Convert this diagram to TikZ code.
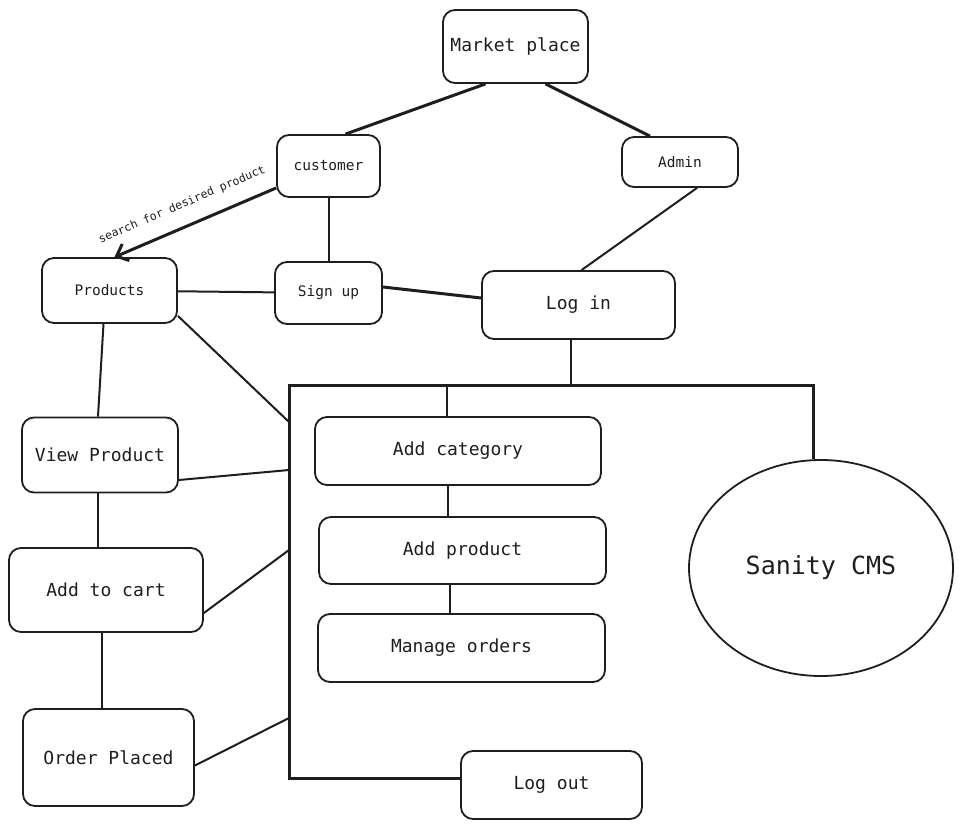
\documentclass[tikz,border=0pt]{standalone}
\usepackage{fontspec}
\setmainfont{DejaVu Sans Mono}
\usetikzlibrary{arrows.meta,shapes.geometric}
\definecolor{ink}{HTML}{1E1E1E}

\begin{document}
\begin{tikzpicture}
      [x=1pt,y=-1pt,color=ink,
       every node/.style={rectangle,rounded corners=12pt,draw,line width=1.8pt,
         inner sep=0pt,font=\fontsize{18}{22}\selectfont},
       small/.style={font=\fontsize{14.5}{18}\selectfont},
       note/.style={draw=none,font=\fontsize{11.5}{13}\selectfont},
       wire/.style={line width=2pt},
       heavy wire/.style={line width=3pt}]
      \useasboundingbox (0,0) rectangle (962,832);

      \node [minimum width=145pt,minimum height=73pt] (mp) at (515.5,46.5) {Market place};
      \node [small,minimum width=116pt,minimum height=50pt] (admin) at (680,162) {Admin};
      \node [small,minimum width=103pt,minimum height=62pt] (cust) at (328.5,166) {customer};
      \node [small,minimum width=135pt,minimum height=65pt] (prod) at (109.5,290.5) {Products};
      \node [small,minimum width=107pt,minimum height=62pt] (sign) at (328.5,293) {Sign up};
      \node [minimum width=193pt,minimum height=68pt] (login) at (578.5,305) {Log in};
      \node [minimum width=286pt,minimum height=68pt] (cat) at (458,451) {Add category};
      \node [minimum width=287pt,minimum height=67pt] (aprod) at (462.5,550.5) {Add product};
      \node [minimum width=287pt,minimum height=68pt] (orders) at (461.5,648) {Manage orders};
      \node [minimum width=181pt,minimum height=68pt] (logout) at (551.5,785) {Log out};
      \node [minimum width=156pt,minimum height=75pt] (view) at (100,455) {View Product};
      \node [minimum width=194pt,minimum height=84pt] (cart) at (106,590) {Add to cart};
      \node [minimum width=171pt,minimum height=97pt] (placed) at (108.5,757.5) {Order Placed};
      \node [ellipse,minimum width=264pt,minimum height=216pt,
        font=\fontsize{25}{30}\selectfont] (sanity) at (821,568) {Sanity CMS};

      \coordinate (tl) at (289,385);
      \coordinate (tr) at (813,385);
      \coordinate (bl) at (289,778);
      \coordinate (j1) at (289,422);
      \coordinate (j2) at (289,470);
      \coordinate (j3) at (289,550);
      \coordinate (j4) at (289,718);

      \foreach \from/\to in {cust/sign, prod/sign}
      \draw [wire] (\from) -- (\to);

      \draw [heavy wire] ([xshift=-30pt]mp.south) -- ([xshift=17pt]cust.north);
      \draw [heavy wire] ([xshift=30pt]mp.south) -- ([xshift=-30pt]admin.north);
      \draw [wire] ([xshift=17pt]admin.south) -- ([xshift=3pt]login.north);
      \draw [heavy wire] ([yshift=6pt]sign.east) -- ([yshift=7pt]login.west);
      \draw [heavy wire,-{Straight Barb[length=10pt,width=18pt]}]
        ([yshift=-22pt]cust.west) -- node [note,sloped,above=15pt,pos=0.53]
        {search for desired product} ([xshift=5pt]prod.north);

      \draw [wire] ([xshift=-8pt]login.south) -- ([xshift=-8pt]login.south |- tl);
      \draw [heavy wire] (bl -| logout.west) -- (bl) -- (tl) -- (tr) -- (tr |- sanity.north);
      \draw [wire] ([xshift=-11pt]cat.north |- tl) -- ([xshift=-11pt]cat.north);
      \draw [wire] ([xshift=-10pt]cat.south) -- ([xshift=-10pt]cat.south |- aprod.north);
      \draw [wire] ([xshift=-13pt]aprod.south) -- ([xshift=-13pt]aprod.south |- orders.north);

      \draw [wire] ([xshift=-6pt]prod.south) -- ([xshift=-2pt]view.north);
      \draw [wire] ([yshift=8pt]prod.south east) -- (j1);
      \draw [wire] ([yshift=-25pt]view.east) -- (j2);
      \draw [wire] ([xshift=-2pt]view.south) -- ([xshift=-8pt]cart.north);
      \draw [wire] ([yshift=-23pt]cart.east) -- (j3);
      \draw [wire] ([xshift=-4pt]cart.south) -- ([xshift=-6.5pt]placed.north);
      \draw [wire] ([yshift=-8pt]placed.east) -- (j4);
    \end{tikzpicture}
\end{document}
